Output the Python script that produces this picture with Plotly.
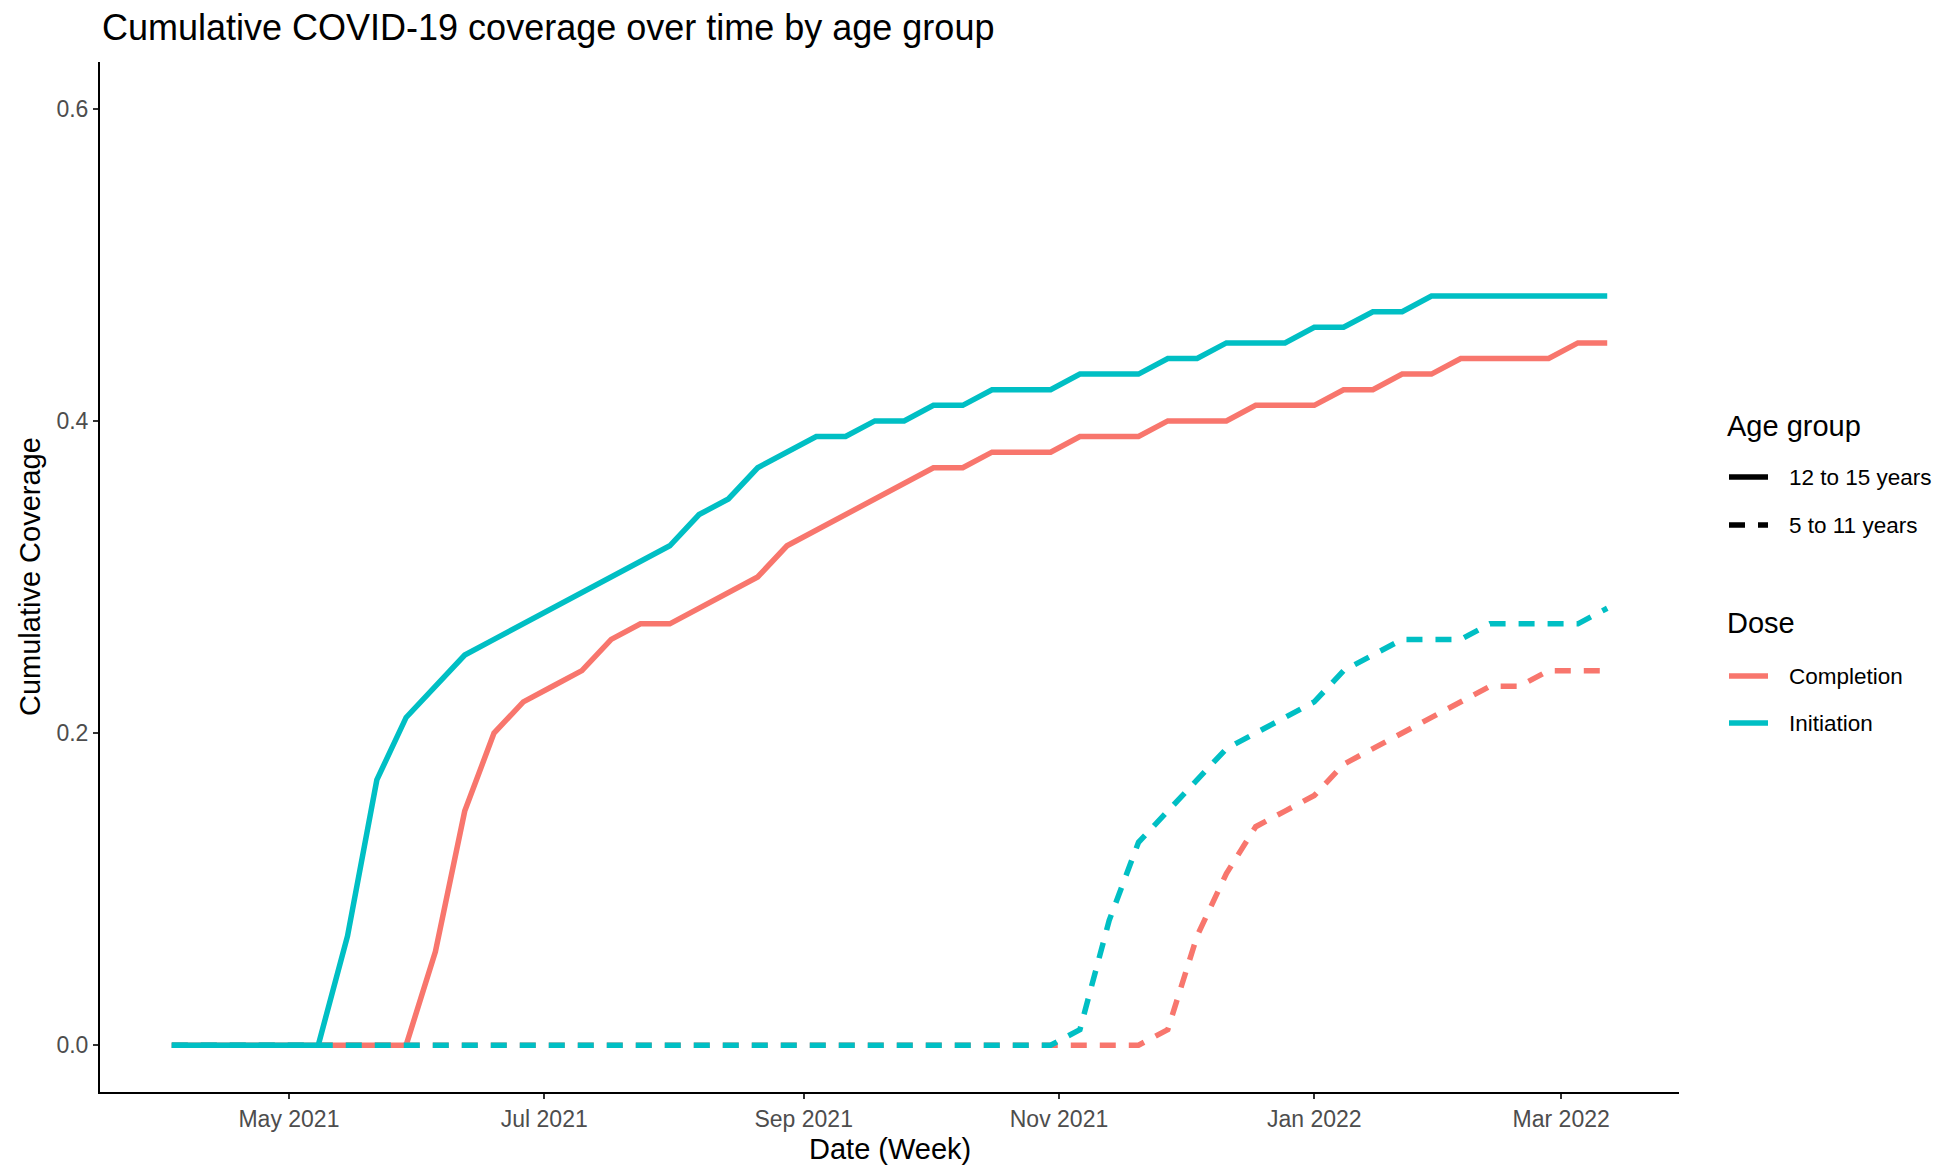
import plotly.graph_objects as go

# ---------------- data ----------------
weeks = [
    "2021-04-03", "2021-04-10", "2021-04-17", "2021-04-24", "2021-05-01", "2021-05-08",
    "2021-05-15", "2021-05-22", "2021-05-29", "2021-06-05", "2021-06-12", "2021-06-19",
    "2021-06-26", "2021-07-03", "2021-07-10", "2021-07-17", "2021-07-24", "2021-07-31",
    "2021-08-07", "2021-08-14", "2021-08-21", "2021-08-28", "2021-09-04", "2021-09-11",
    "2021-09-18", "2021-09-25", "2021-10-02", "2021-10-09", "2021-10-16", "2021-10-23",
    "2021-10-30", "2021-11-06", "2021-11-13", "2021-11-20", "2021-11-27", "2021-12-04",
    "2021-12-11", "2021-12-18", "2021-12-25", "2022-01-01", "2022-01-08", "2022-01-15",
    "2022-01-22", "2022-01-29", "2022-02-05", "2022-02-12", "2022-02-19", "2022-02-26",
    "2022-03-05", "2022-03-12",
]

initiation_12_15 = [
    0, 0, 0, 0, 0, 0, 0.07, 0.17, 0.21, 0.23,
    0.25, 0.26, 0.27, 0.28, 0.29, 0.30, 0.31, 0.32, 0.34, 0.35,
    0.37, 0.38, 0.39, 0.39, 0.40, 0.40, 0.41, 0.41, 0.42, 0.42,
    0.42, 0.43, 0.43, 0.43, 0.44, 0.44, 0.45, 0.45, 0.45, 0.46,
    0.46, 0.47, 0.47, 0.48, 0.48, 0.48, 0.48, 0.48, 0.48, 0.48,
]

completion_12_15 = [
    0, 0, 0, 0, 0, 0, 0, 0, 0, 0.06,
    0.15, 0.20, 0.22, 0.23, 0.24, 0.26, 0.27, 0.27, 0.28, 0.29,
    0.30, 0.32, 0.33, 0.34, 0.35, 0.36, 0.37, 0.37, 0.38, 0.38,
    0.38, 0.39, 0.39, 0.39, 0.40, 0.40, 0.40, 0.41, 0.41, 0.41,
    0.42, 0.42, 0.43, 0.43, 0.44, 0.44, 0.44, 0.44, 0.45, 0.45,
]

initiation_5_11 = [
    0, 0, 0, 0, 0, 0, 0, 0, 0, 0,
    0, 0, 0, 0, 0, 0, 0, 0, 0, 0,
    0, 0, 0, 0, 0, 0, 0, 0, 0, 0,
    0, 0.01, 0.08, 0.13, 0.15, 0.17, 0.19, 0.20, 0.21, 0.22,
    0.24, 0.25, 0.26, 0.26, 0.26, 0.27, 0.27, 0.27, 0.27, 0.28,
]

completion_5_11 = [
    0, 0, 0, 0, 0, 0, 0, 0, 0, 0,
    0, 0, 0, 0, 0, 0, 0, 0, 0, 0,
    0, 0, 0, 0, 0, 0, 0, 0, 0, 0,
    0, 0, 0, 0, 0.01, 0.07, 0.11, 0.14, 0.15, 0.16,
    0.18, 0.19, 0.20, 0.21, 0.22, 0.23, 0.23, 0.24, 0.24, 0.24,
]

x_tick_vals = ["2021-05-01", "2021-07-01", "2021-09-01", "2021-11-01", "2022-01-01", "2022-03-01"]
y_tick_vals = [0.0, 0.2, 0.4, 0.6]
y_tick_text = ["0.0", "0.2", "0.4", "0.6"]

age_groups = ["12 to 15 years", "5 to 11 years"]
doses = ["Completion", "Initiation"]

# ---------------- style ----------------
RED = "#F8766D"
TEAL = "#00BFC4"
FONT = "Liberation Sans, Arial, Helvetica, sans-serif"
LW = 5.5
DASH = "16px,13px"

OFF = 8  # page body margin of the html page
FW, FH = 1946 - OFF, 1166 - OFF
ML = 100 - OFF
MT = 62 - OFF
MR = FW - (1679 - OFF)
MB = FH - (1092 - OFF)
PW = FW - ML - MR
PH = FH - MT - MB


def px_x(px):
    """page pixel x -> paper coordinate"""
    return (px - OFF - ML) / PW


def px_y(py):
    """page pixel y -> paper coordinate"""
    return (MT + PH - (py - OFF)) / PH


fig = go.Figure()

series = [
    (completion_12_15, RED, "solid"),
    (completion_5_11, RED, DASH),
    (initiation_12_15, TEAL, "solid"),
    (initiation_5_11, TEAL, DASH),
]
for vals, col, dash in series:
    fig.add_trace(go.Scatter(
        x=weeks, y=vals, mode="lines",
        line=dict(color=col, width=LW, dash=dash),
        showlegend=False, hoverinfo="x+y",
    ))

# ---------------- manual legend ----------------
shapes = []
annotations = []

legend_x0, legend_x1 = 1729, 1768
label_x = 1787
title_x = 1725
LAB = 22.5

annotations.append(dict(text="Age group", x=px_x(title_x), y=px_y(426), xref="paper", yref="paper",
                        xanchor="left", yanchor="middle", showarrow=False,
                        font=dict(family=FONT, size=29, color="black")))
for label, ypos, dash in [(age_groups[0], 477, "solid"), (age_groups[1], 525, DASH)]:
    shapes.append(dict(type="line", xref="paper", yref="paper",
                       x0=px_x(legend_x0), x1=px_x(legend_x1), y0=px_y(ypos), y1=px_y(ypos),
                       line=dict(color="black", width=LW, dash=dash)))
    annotations.append(dict(text=label, x=px_x(label_x), y=px_y(ypos), xref="paper", yref="paper",
                            xanchor="left", yanchor="middle", showarrow=False,
                            font=dict(family=FONT, size=LAB, color="black")))

annotations.append(dict(text="Dose", x=px_x(title_x), y=px_y(623), xref="paper", yref="paper",
                        xanchor="left", yanchor="middle", showarrow=False,
                        font=dict(family=FONT, size=29, color="black")))
for label, ypos, col in [(doses[0], 676, RED), (doses[1], 723, TEAL)]:
    shapes.append(dict(type="line", xref="paper", yref="paper",
                       x0=px_x(legend_x0), x1=px_x(legend_x1), y0=px_y(ypos), y1=px_y(ypos),
                       line=dict(color=col, width=LW)))
    annotations.append(dict(text=label, x=px_x(label_x), y=px_y(ypos), xref="paper", yref="paper",
                            xanchor="left", yanchor="middle", showarrow=False,
                            font=dict(family=FONT, size=LAB, color="black")))

# axis titles
annotations.append(dict(text="Date (Week)", x=0.5, y=px_y(1149), xref="paper", yref="paper",
                        xanchor="center", yanchor="middle", showarrow=False,
                        font=dict(family=FONT, size=29, color="black")))
annotations.append(dict(text="Cumulative Coverage", x=px_x(30), y=0.5, xref="paper", yref="paper",
                        xanchor="center", yanchor="middle", showarrow=False, textangle=-90,
                        font=dict(family=FONT, size=29, color="black")))

fig.update_layout(
    width=FW, height=FH,
    margin=dict(l=ML, r=MR, t=MT, b=MB, autoexpand=False),
    paper_bgcolor="white", plot_bgcolor="white",
    font=dict(family=FONT, color="black"),
    title=dict(text="Cumulative COVID-19 coverage over time by age group",
               x=(102 - OFF) / FW, xanchor="left", xref="container",
               y=1 - (27 - OFF) / FH, yanchor="middle", yref="container",
               font=dict(family=FONT, size=36, color="black")),
    showlegend=False,
    shapes=shapes,
    annotations=annotations,
)

fig.update_xaxes(
    type="date",
    range=["2021-03-16 20:24", "2022-03-29 03:36"],
    tickvals=x_tick_vals, tickformat="%b %Y",
    showgrid=False, zeroline=False,
    showline=True, linecolor="black", linewidth=2,
    ticks="outside", ticklen=5, tickwidth=2, tickcolor="#333333",
    tickfont=dict(family=FONT, size=23, color="#4D4D4D"),
)
fig.update_yaxes(
    range=[-0.03, 0.63],
    tickvals=y_tick_vals, ticktext=y_tick_text,
    showgrid=False, zeroline=False,
    showline=True, linecolor="black", linewidth=2,
    ticks="outside", ticklen=5, tickwidth=2, tickcolor="#333333",
    tickfont=dict(family=FONT, size=23, color="#4D4D4D"),
)

fig.write_html("out.html")
